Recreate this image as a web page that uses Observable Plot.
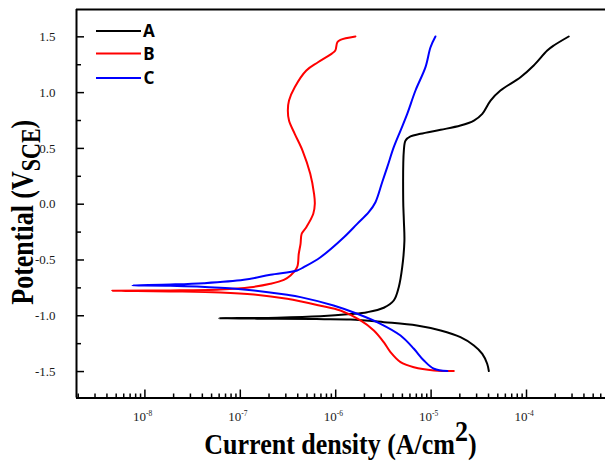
<!DOCTYPE html>
<html>
<head>
<meta charset="utf-8">
<script src="https://cdn.jsdelivr.net/npm/d3@7"></script>
<script src="https://cdn.jsdelivr.net/npm/@observablehq/plot@0.6"></script>
<style>
  html, body { margin: 0; padding: 0; background: #fff; }
</style>
</head>
<body>
<script>
// ---- Data (current density in A/cm^2, potential in V vs SCE), in scan order ----
const seriesNames = ["A", "B", "C"];
const seriesColors = ["#000000", "#ff0000", "#0000ff"];

const curA = [4.03e-5, 3.87e-5, 3.44e-5, 2.81e-5, 2.03e-5, 1.26e-5, 7.1e-6, 3.2e-6, 1.43e-6, 6.3e-7, 2.44e-7, 5.96e-8,
  2.44e-7, 6.9e-7, 1.43e-6, 2.14e-6, 3.19e-6, 4.06e-6, 4.58e-6, 4.98e-6, 5.25e-6, 5.18e-6, 5.1e-6, 5.18e-6, 5.4e-6,
  6.08e-6, 7.74e-6, 1.26e-5, 2.03e-5, 2.81e-5, 3.44e-5, 4.2e-5, 5.33e-5, 8.65e-5, 1.19e-4, 1.65e-4, 1.93e-4, 2.77e-4];
const potA = [-1.496, -1.430, -1.341, -1.266, -1.192, -1.132, -1.087, -1.057, -1.033, -1.030, -1.027, -1.022,
  -1.017, -1.005, -0.985, -0.968, -0.928, -0.863, -0.744, -0.565, -0.330, -0.146, 0.033, 0.481, 0.571,
  0.607, 0.631, 0.667, 0.705, 0.750, 0.810, 0.929, 1.019, 1.138, 1.243, 1.377, 1.422, 1.503];

const curB = [1.73e-5, 1.07e-5, 6.6e-6, 4.78e-6, 3.75e-6, 3.19e-6, 2.51e-6, 1.82e-6, 1.12e-6, 6.93e-7, 3.1e-7, 1.39e-7,
  6.2e-8, 1.85e-8, 4.54e-9, 1.85e-8, 6.2e-8, 1.28e-7, 2.07e-7, 2.86e-7, 3.36e-7, 3.94e-7, 4.1e-7, 4.28e-7, 4.4e-7,
  4.92e-7, 5.82e-7, 6.04e-7, 5.93e-7, 5.41e-7, 4.49e-7, 3.72e-7, 3.24e-7, 3.15e-7, 3.24e-7, 3.72e-7, 4.92e-7,
  6.52e-7, 9.1e-7, 9.9e-7, 1.04e-6, 1.12e-6, 1.61e-6];
const potB = [-1.496, -1.490, -1.461, -1.416, -1.326, -1.237, -1.132, -1.042, -0.953, -0.910, -0.848, -0.809,
  -0.791, -0.782, -0.776, -0.773, -0.764, -0.744, -0.713, -0.678, -0.639, -0.565, -0.444, -0.355, -0.265,
  -0.206, -0.086, 0.004, 0.093, 0.272, 0.481, 0.631, 0.750, 0.840, 0.929, 1.048, 1.198,
  1.272, 1.350, 1.377, 1.452, 1.473, 1.503];

const curC = [1.48e-5, 1.07e-5, 8.4e-6, 6.6e-6, 4.78e-6, 2.95e-6, 1.68e-6, 9.5e-7, 4.28e-7, 3.1e-7, 1.39e-7, 6.2e-8,
  1.85e-8, 7.4e-9, 1.85e-8, 4.14e-8, 1.09e-7, 2.07e-7, 3.94e-7, 4.63e-7, 6.93e-7, 1.22e-6, 1.68e-6, 2.22e-6,
  2.61e-6, 3.07e-6, 3.47e-6, 4.06e-6, 4.78e-6, 5.62e-6, 6.86e-6, 8.73e-6, 9.86e-6, 1.11e-5];
const potC = [-1.496, -1.475, -1.401, -1.296, -1.177, -1.072, -0.982, -0.908, -0.833, -0.812, -0.773, -0.749,
  -0.731, -0.728, -0.720, -0.708, -0.678, -0.633, -0.594, -0.564, -0.475, -0.296, -0.176, -0.072,
  0.018, 0.197, 0.332, 0.511, 0.660, 0.810, 1.019, 1.228, 1.407, 1.503];

// ---- Ticks / labels ----
const xMajor = [1e-8, 1e-7, 1e-6, 1e-5, 1e-4];
const xExponents = ["-8", "-7", "-6", "-5", "-4"];
const xMinorMultipliers = [2, 3, 4, 5, 6, 7, 8, 9];
const xMinorDecades = [1e-9, 1e-8, 1e-7, 1e-6, 1e-5, 1e-4];
const yMajor = [-1.5, -1.0, -0.5, 0.0, 0.5, 1.0, 1.5];
const yMinor = [-1.25, -0.75, -0.25, 0.25, 0.75, 1.25];
const xTitle = "Current density (A/cm";
const xTitleSup = "2";
const yTitle = "Potential (V";
const yTitleSub = "SCE";

// ---- Build tables ----
const rows = [];
[[curA, potA], [curB, potB], [curC, potC]].forEach(([c, p], k) => {
  c.forEach((v, i) => rows.push({series: seriesNames[k], i: v, E: p[i]}));
});
const xMinor = [];
xMinorDecades.forEach(d => xMinorMultipliers.forEach(m => xMinor.push(d * m)));

// ---- Layout ----
const W = 605, H = 465;
const mL = 76, mR = 0, mT = 9, mB = 67.5;
const plotW = W - mL - mR, plotH = H - mT - mB;
const xDomain = [Math.pow(10, -8.717), Math.pow(10, -3.172)];
const yDomain = [-1.737, 1.745];
const xMinorIn = xMinor.filter(v => v > xDomain[0] && v < xDomain[1]);

const serif = "'Liberation Serif', 'Times New Roman', serif";

const fig = Plot.plot({
  width: W, height: H,
  marginLeft: mL, marginRight: mR, marginTop: mT, marginBottom: mB,
  style: {background: "#fff", fontFamily: serif, overflow: "visible"},
  x: {type: "log", domain: xDomain, axis: null},
  y: {domain: yDomain, axis: null},
  color: {domain: seriesNames, range: seriesColors},
  marks: [
    Plot.line(rows, {x: "i", y: "E", z: "series", stroke: "series", strokeWidth: 2, curve: "catmull-rom"}),
    // frame
    Plot.ruleX([xDomain[0]], {stroke: "#000", strokeWidth: 2}),
    Plot.ruleY([yDomain[0]], {stroke: "#000", strokeWidth: 2}),
    Plot.ruleY([yDomain[1]], {stroke: "#000", strokeWidth: 2}),
    // inward ticks
    Plot.tickX(xMajor, {x: d => d, insetTop: plotH - 8, stroke: "#000", strokeWidth: 1.5}),
    Plot.tickX(xMinorIn, {x: d => d, insetTop: plotH - 4, stroke: "#000", strokeWidth: 1.5}),
    Plot.tickY(yMajor, {y: d => d, insetRight: plotW - 8, stroke: "#000", strokeWidth: 1.5}),
    Plot.tickY(yMinor, {y: d => d, insetRight: plotW - 5, stroke: "#000", strokeWidth: 1.5}),
    // tick labels
    Plot.text(yMajor, {y: d => d, frameAnchor: "left", dx: -21, textAnchor: "end",
      text: d => d.toFixed(1), fontSize: 13, fill: "#1a1a1a", fontFamily: serif}),
    Plot.text(xMajor, {x: d => d, frameAnchor: "bottom", dx: -12, dy: 23, lineAnchor: "bottom", textAnchor: "start",
      text: (d, i) => "10" + xExponents[i], fontSize: 13, fill: "#1a1a1a", fontFamily: serif}),
    // axis titles (positioned precisely below)
    Plot.text([xTitle], {frameAnchor: "bottom", lineAnchor: "bottom", textAnchor: "middle", text: d => d,
      fontSize: 26, fontWeight: "bold", fill: "#000", fontFamily: serif}),
    Plot.text([yTitle], {frameAnchor: "left", rotate: -90, lineAnchor: "bottom", textAnchor: "middle",
      text: d => d, fontSize: 26, fontWeight: "bold", fill: "#000", fontFamily: serif})
  ]
});
document.body.appendChild(fig);

// ---- Post-process titles / tick labels (super- and subscripts) ----
const svgNS = "http://www.w3.org/2000/svg";
function wrapScale(node, cx, cy, sx, sy) {
  const g = document.createElementNS(svgNS, "g");
  node.parentNode.insertBefore(g, node);
  g.appendChild(node);
  g.setAttribute("transform", `translate(${cx},${cy}) scale(${sx},${sy}) translate(${-cx},${-cy})`);
}
const root = d3.select(fig);
const xCx = mL + plotW / 2, xCy = H - mB + 56;
const yCx = mL - 43, yCy = mT + plotH / 2 + 9;
root.selectAll("text").each(function() {
  const t = d3.select(this);
  const s = t.text();
  if (s === xTitle) {
    this.parentNode.removeAttribute("transform");
    t.text(null).attr("x", null).attr("y", null).attr("dy", null)
      .attr("text-anchor", "middle").attr("transform", `translate(${xCx},${xCy})`);
    t.append("tspan").text(xTitle);
    t.append("tspan").attr("dy", -11).text(xTitleSup);
    t.append("tspan").attr("dy", 11).text(")");
    wrapScale(this, xCx, xCy, 1, 1.16);
  } else if (s === yTitle) {
    this.parentNode.removeAttribute("transform");
    t.text(null).attr("x", null).attr("y", null).attr("dy", null)
      .attr("text-anchor", "middle").attr("transform", `translate(${yCx},${yCy}) rotate(-90)`);
    t.append("tspan").text(yTitle);
    t.append("tspan").attr("dy", 6).attr("font-size", 22).text(yTitleSub);
    t.append("tspan").attr("dy", -6).text(")");
    wrapScale(this, yCx, yCy, 1.2, 1);
  } else if (/^10-\d$/.test(s)) {
    const exp = s.slice(2);
    t.text(null);
    t.append("tspan").text("10");
    t.append("tspan").attr("dy", -5).attr("font-size", 7.5).text(exp);
  }
});

// ---- Legend (inside plot, top-left) ----
const legendY = [31, 53.5, 78];
const leg = root.append("g").attr("font-family", "'Noto Sans', 'DejaVu Sans', sans-serif")
  .attr("font-weight", "bold").attr("font-size", 17);
seriesNames.forEach((n, k) => {
  leg.append("line").attr("x1", 96).attr("x2", 141).attr("y1", legendY[k]).attr("y2", legendY[k])
    .attr("stroke", seriesColors[k]).attr("stroke-width", 2);
  leg.append("text").attr("x", 149).attr("y", legendY[k]).attr("dy", "0.36em").attr("fill", "#000").text(n);
});
</script>
</body>
</html>
